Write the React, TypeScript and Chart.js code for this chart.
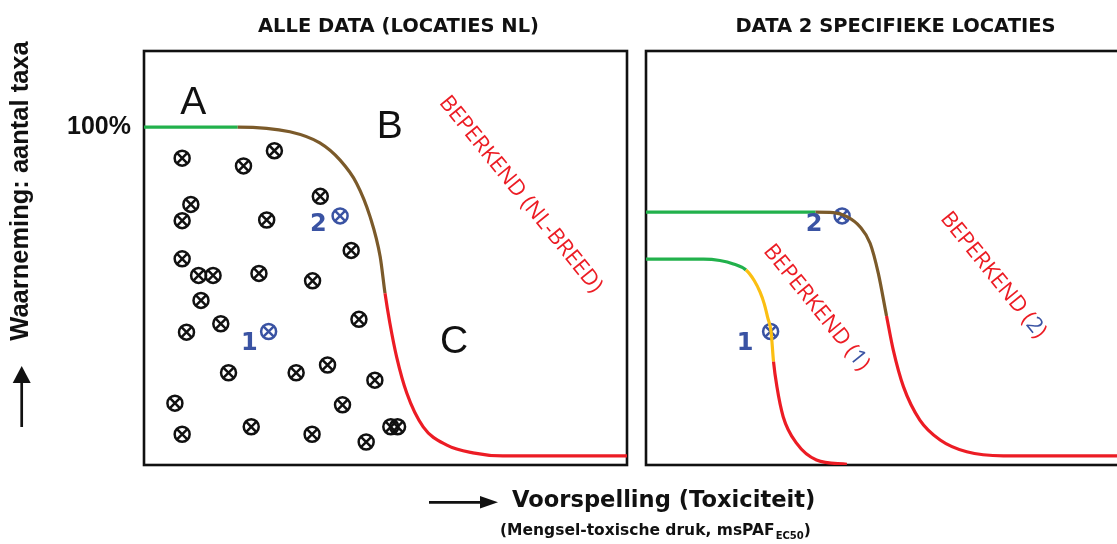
import React, { useEffect, useRef } from 'react';
import { Chart, registerables } from 'chart.js';

Chart.register(...registerables);

// ---------------- data ----------------
const panelTitles = ['ALLE DATA (LOCATIES NL)', 'DATA 2 SPECIFIEKE LOCATIES'];
const yTickValues = [100];
const yTickLabels = ['100%'];
const yAxisTitle = 'Waarneming: aantal taxa';
const xAxisTitle = 'Voorspelling (Toxiciteit)';
const xAxisSubtitle = '(Mengsel-toxische druk, msPAF';
const xAxisSubscript = 'EC50';
const xAxisSubtitleEnd = ')';

// NL-wide limiting curve (left panel)
const nlCurveX = [0, 19.4, 30.2, 36.4, 40.6, 44.0, 46.8, 48.9, 49.9, 50.9, 52.3, 54.4, 57.8, 62.7, 68.1, 74.3, 100];
const nlCurveY = [100, 100, 98.6, 95.3, 90.2, 83.4, 73.5, 61.6, 50.8, 42.0, 32.0, 21.3, 11.3, 5.9, 3.6, 2.7, 2.7];
const nlZones = [19.4, 49.9];

// Site-specific curves (right panel)
const site1CurveX = [0, 11.9, 15.3, 18.1, 20.7, 22.4, 23.6, 24.5, 25.2, 25.9, 26.4, 27.1, 28.4, 31.2, 35.3, 41.6];
const site1CurveY = [60.9, 60.9, 60.5, 59.5, 57.7, 54.6, 51.2, 47.6, 43.6, 39.4, 30.6, 23.2, 14.3, 6.4, 1.5, 0.2];
const site1Zones = [20.7, 26.4];

const site2CurveX = [0, 35.1, 38.8, 41.6, 44.3, 46.4, 48.1, 49.8, 51.2, 53.3, 56.7, 60.9, 66.4, 74.0, 100];
const site2CurveY = [74.8, 74.8, 74.7, 73.5, 70.5, 65.6, 56.7, 44.1, 34.0, 23.2, 13.3, 7.4, 3.9, 2.7, 2.7];
const site2Zones = [35.1, 49.8];

// Observations (all NL locations)
const obsX = [7.9, 20.6, 27.0, 9.7, 7.9, 25.4, 36.5, 7.9, 11.3, 14.3, 23.8, 34.9, 42.9, 11.8, 15.9, 8.8, 44.5, 17.5, 31.5, 38.0, 47.8, 6.4, 41.1, 7.9, 22.2, 34.8, 46.0, 51.1, 52.5];
const obsY = [90.8, 88.5, 93.0, 77.1, 72.3, 72.5, 79.5, 61.0, 56.1, 56.1, 56.7, 54.5, 63.5, 48.7, 41.8, 39.3, 43.1, 27.3, 27.3, 29.6, 25.1, 18.3, 17.8, 9.1, 11.3, 9.1, 6.8, 11.3, 11.3];

// The two specific locations
const siteNames = ['1', '2'];
const siteX = [25.8, 40.6];
const siteY = [39.5, 73.7];

// ---------------- annotations (data coordinates) ----------------
const zoneLetters = ['A', 'B', 'C'];
const zoneLetterX = [10.2, 50.9, 64.2];
const zoneLetterY = [107.0, 99.9, 36.4];

const siteLabelLeftX = [21.8, 36.1];
const siteLabelLeftY = [36.0, 71.0];
const siteLabelRightX = [20.5, 34.8];
const siteLabelRightY = [35.8, 71.0];

// ---------------- styles ----------------
const GREEN = '#22b14c';
const BROWN = '#7b5a2a';
const RED = '#ec1c24';
const YELLOW = '#fbbf12';
const BLUE = '#3a53a3';
const INK = '#111111';

const limitLabels = [
  { axis: 'xL', x: 78.0, y: 80.1, runs: [['BEPERKEND (NL-BREED)', RED]] },
  { axis: 'xR', x: 35.3, y: 46.6, runs: [['BEPERKEND (', RED], [siteNames[0], BLUE], [')', RED]] },
  { axis: 'xR', x: 71.9, y: 56.2, runs: [['BEPERKEND (', RED], [siteNames[1], BLUE], [')', RED]] },
];

const pts = (xs: number[], ys: number[]) => xs.map((x, i) => ({ x, y: ys[i] }));

const zoneColor = (zones: number[], colors: string[]) => (ctx: any) => {
  const x = ctx.p0.parsed.x;
  let i = 0;
  while (i < zones.length && x >= zones[i] - 1e-9) i++;
  return colors[i];
};

const curveDataset = (axis: string, xs: number[], ys: number[], zones: number[], colors: string[]) => ({
  type: 'line' as const,
  xAxisID: axis,
  yAxisID: 'y',
  data: pts(xs, ys),
  borderColor: colors[colors.length - 1],
  borderWidth: 3.2,
  pointRadius: 0,
  fill: false,
  cubicInterpolationMode: 'monotone' as const,
  segment: { borderColor: zoneColor(zones, colors) },
});

const markerDatasets = (axis: string, xs: number[], ys: number[], color: string) => [
  {
    type: 'line' as const,
    xAxisID: axis,
    yAxisID: 'y',
    data: pts(xs, ys),
    showLine: false,
    pointStyle: 'circle',
    pointRadius: 7.5,
    pointBorderWidth: 2.5,
    pointBorderColor: color,
    pointBackgroundColor: 'rgba(0,0,0,0)',
  },
  {
    type: 'line' as const,
    xAxisID: axis,
    yAxisID: 'y',
    data: pts(xs, ys),
    showLine: false,
    pointStyle: 'crossRot',
    pointRadius: 7.0,
    pointBorderWidth: 2.5,
    pointBorderColor: color,
    pointBackgroundColor: color,
  },
];

const drawRuns = (ctx: CanvasRenderingContext2D, runs: any[], cx: number, cy: number, angle: number, font: string) => {
  ctx.save();
  ctx.translate(cx, cy);
  ctx.rotate(angle);
  ctx.font = font;
  ctx.textBaseline = 'middle';
  ctx.textAlign = 'left';
  const total = runs.reduce((w, r) => w + ctx.measureText(r[0]).width, 0);
  let x = -total / 2;
  for (const r of runs) {
    ctx.fillStyle = r[1];
    ctx.fillText(r[0], x, 0);
    x += ctx.measureText(r[0]).width;
  }
  ctx.restore();
};

const decorPlugin = {
  id: 'decor',
  beforeDatasetsDraw(chart: any) {
    const { ctx, chartArea, scales } = chart;
    ctx.save();
    ctx.strokeStyle = INK;
    ctx.lineWidth = 2.6;
    for (const s of [scales.xL, scales.xR]) {
      ctx.strokeRect(s.left, chartArea.top, s.right - s.left, chartArea.bottom - chartArea.top);
    }
    ctx.restore();
  },
  afterDatasetsDraw(chart: any) {
    const { ctx, chartArea, scales } = chart;
    const { xL, xR, y } = scales;
    ctx.save();

    // panel titles
    ctx.fillStyle = INK;
    ctx.font = 'bold 19.5px "DejaVu Sans"';
    ctx.textAlign = 'center';
    ctx.textBaseline = 'middle';
    ctx.fillText(panelTitles[0], (xL.left + xL.right) / 2 + 13, chartArea.top - 24);
    ctx.fillText(panelTitles[1], (xR.left + xR.right) / 2 + 8, chartArea.top - 24);

    // zone letters
    ctx.font = '39px "Liberation Sans"';
    zoneLetters.forEach((t, i) => {
      ctx.fillText(t, xL.getPixelForValue(zoneLetterX[i]), y.getPixelForValue(zoneLetterY[i]));
    });

    // site labels
    ctx.fillStyle = BLUE;
    ctx.font = 'bold 24px "DejaVu Sans"';
    siteNames.forEach((t, i) => {
      ctx.fillText(t, xL.getPixelForValue(siteLabelLeftX[i]), y.getPixelForValue(siteLabelLeftY[i]));
      ctx.fillText(t, xR.getPixelForValue(siteLabelRightX[i]), y.getPixelForValue(siteLabelRightY[i]));
    });

    // limit labels
    for (const l of limitLabels) {
      const sx = scales[l.axis];
      drawRuns(ctx, l.runs, sx.getPixelForValue(l.x), y.getPixelForValue(l.y), (51 * Math.PI) / 180, '22px "Open Sans"');
    }

    // y axis title + arrow
    ctx.fillStyle = INK;
    ctx.save();
    ctx.translate(28, 191);
    ctx.rotate(-Math.PI / 2);
    ctx.font = 'bold 25.5px "Liberation Sans"';
    ctx.textAlign = 'center';
    ctx.textBaseline = 'alphabetic';
    ctx.fillText(yAxisTitle, 0, 0);
    ctx.restore();

    ctx.strokeStyle = INK;
    ctx.lineWidth = 2.7;
    ctx.beginPath();
    ctx.moveTo(21.7, 427);
    ctx.lineTo(21.7, 380);
    ctx.stroke();
    ctx.beginPath();
    ctx.moveTo(21.7, 366);
    ctx.lineTo(30.7, 383);
    ctx.lineTo(12.7, 383);
    ctx.closePath();
    ctx.fill();

    // x axis arrow + title
    ctx.beginPath();
    ctx.moveTo(429, 502.3);
    ctx.lineTo(483, 502.3);
    ctx.stroke();
    ctx.beginPath();
    ctx.moveTo(498, 502.3);
    ctx.lineTo(480, 496);
    ctx.lineTo(480, 508.6);
    ctx.closePath();
    ctx.fill();

    ctx.textAlign = 'left';
    ctx.textBaseline = 'middle';
    ctx.font = 'bold 22.6px "DejaVu Sans"';
    ctx.fillText(xAxisTitle, 512, 501);

    ctx.font = 'bold 15.5px "DejaVu Sans"';
    let x = 500;
    ctx.fillText(xAxisSubtitle, x, 531);
    x += ctx.measureText(xAxisSubtitle).width;
    ctx.font = 'bold 10px "DejaVu Sans"';
    ctx.fillText(xAxisSubscript, x + 1, 536);
    x += ctx.measureText(xAxisSubscript).width + 1;
    ctx.font = 'bold 15.5px "DejaVu Sans"';
    ctx.fillText(xAxisSubtitleEnd, x, 531);

    ctx.restore();
  },
};

const hiddenX = (weight: number, max: number) => ({
  type: 'linear' as const,
  position: 'bottom' as const,
  stack: 'panels',
  stackWeight: weight,
  min: 0,
  max,
  grid: { display: false, drawTicks: false },
  border: { display: false },
  ticks: { display: false },
  afterFit: (s: any) => {
    s.height = 79;
  },
});

export default function App() {
  const ref = useRef<HTMLCanvasElement>(null);

  useEffect(() => {
    if (!ref.current) return;
    const chart = new Chart(ref.current, {
      type: 'line',
      data: {
        datasets: [
          curveDataset('xL', nlCurveX, nlCurveY, nlZones, [GREEN, BROWN, RED]),
          curveDataset('xR', site1CurveX, site1CurveY, site1Zones, [GREEN, YELLOW, RED]),
          curveDataset('xR', site2CurveX, site2CurveY, site2Zones, [GREEN, BROWN, RED]),
          ...markerDatasets('xL', obsX, obsY, INK),
          ...markerDatasets('xL', siteX, siteY, BLUE),
          ...markerDatasets('xR', siteX, siteY, BLUE),
        ] as any,
      },
      options: {
        animation: false,
        responsive: true,
        maintainAspectRatio: false,
        events: [],
        layout: { padding: { top: 51, right: 11, bottom: 0, left: 0 } },
        plugins: { legend: { display: false }, tooltip: { enabled: false }, title: { display: false } },
        scales: {
          xL: hiddenX(483, 100),
          xGap: hiddenX(19, 1),
          xR: hiddenX(483, 100),
          y: {
            type: 'linear',
            position: 'left',
            min: 0,
            max: 122.5,
            grid: { display: false, drawTicks: false },
            border: { display: false },
            ticks: {
              padding: 13,
              color: INK,
              font: { family: '"Liberation Sans"', size: 25, weight: 'bold' },
              callback: (v: any) => {
                const i = yTickValues.indexOf(Number(v));
                return i >= 0 ? yTickLabels[i] : '';
              },
            },
            afterBuildTicks: (s: any) => {
              s.ticks = yTickValues.map((v) => ({ value: v }));
            },
            afterFit: (s: any) => {
              s.width = 144;
            },
          },
        } as any,
      },
      plugins: [decorPlugin],
    });
    return () => chart.destroy();
  }, []);

  return (
    <div style={{ position: 'fixed', left: 0, top: 0, width: 1117, height: 544, overflow: 'hidden', background: '#fff' }}>
      <div style={{ position: 'relative', width: 1140, height: 544 }}>
        <canvas ref={ref} />
      </div>
    </div>
  );
}
